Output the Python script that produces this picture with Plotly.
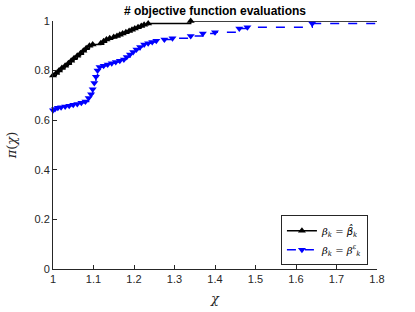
import plotly.graph_objects as go

# ---- data ----
black_x = [1.000, 1.008, 1.015, 1.022, 1.030, 1.038, 1.045, 1.052, 1.060, 1.068,
           1.075, 1.082, 1.090, 1.098, 1.118, 1.125, 1.132, 1.140, 1.150, 1.158,
           1.165, 1.172, 1.180, 1.188, 1.195, 1.202, 1.210, 1.218, 1.225, 1.235,
           1.340]
black_y = [0.780, 0.790, 0.800, 0.810, 0.820, 0.830, 0.840, 0.850, 0.860, 0.870,
           0.880, 0.890, 0.900, 0.905, 0.910, 0.918, 0.925, 0.930, 0.935, 0.940,
           0.945, 0.950, 0.955, 0.960, 0.965, 0.970, 0.975, 0.980, 0.985, 0.990,
           1.000]
blue_x = [1.000, 1.005, 1.012, 1.020, 1.030, 1.040, 1.050, 1.060, 1.070, 1.080,
          1.088, 1.094, 1.098, 1.102, 1.106, 1.110, 1.115, 1.125, 1.135, 1.145,
          1.155, 1.165, 1.175, 1.182, 1.190, 1.198, 1.206, 1.215, 1.225, 1.235,
          1.245, 1.255, 1.275, 1.295, 1.340, 1.370, 1.400, 1.460, 1.480, 1.640]
blue_y = [0.640, 0.645, 0.650, 0.652, 0.655, 0.658, 0.662, 0.665, 0.670, 0.675,
          0.690, 0.705, 0.725, 0.750, 0.775, 0.800, 0.815, 0.820, 0.825, 0.830,
          0.835, 0.840, 0.845, 0.855, 0.865, 0.875, 0.885, 0.895, 0.905, 0.910,
          0.915, 0.920, 0.925, 0.930, 0.940, 0.950, 0.955, 0.970, 0.975, 0.990]
x_end = 1.8
x_ticks = [1, 1.1, 1.2, 1.3, 1.4, 1.5, 1.6, 1.7, 1.8]
x_ticktext = ["1", "1.1", "1.2", "1.3", "1.4", "1.5", "1.6", "1.7", "1.8"]
y_ticks = [0, 0.2, 0.4, 0.6, 0.8, 1]
y_ticktext = ["0", "0.2", "0.4", "0.6", "0.8", "1"]

name_black = ("<i>β</i><sub><i>k</i></sub> = "
              "<span style='font-family:DejaVu Sans'><i>\u03b2\u0302</i></span><sub><i>k</i></sub>")
name_blue = "<i>β</i><sub><i>k</i></sub> = <i>β</i><sup><i>ε</i></sup><sub><i>k</i></sub>"

fig = go.Figure()

# black extension line
fig.add_trace(go.Scatter(x=[black_x[-1], x_end], y=[black_y[-1], black_y[-1]],
                         mode="lines", line=dict(color="black", width=1.5),
                         showlegend=False, hoverinfo="skip", cliponaxis=False))
fig.add_trace(go.Scatter(x=black_x, y=black_y, mode="lines+markers", name=name_black,
                         line=dict(color="black", width=1.5, shape="hv"),
                         marker=dict(symbol="triangle-up", size=7, color="black"),
                         cliponaxis=False))
# blue extension
fig.add_trace(go.Scatter(x=[blue_x[-1], x_end], y=[blue_y[-1], blue_y[-1]],
                         mode="lines", line=dict(color="#0000FF", width=1.5, dash="dash"),
                         showlegend=False, hoverinfo="skip", cliponaxis=False))
fig.add_trace(go.Scatter(x=blue_x, y=blue_y, mode="lines+markers", name=name_blue,
                         line=dict(color="#0000FF", width=1.5, dash="dash", shape="hv"),
                         marker=dict(symbol="triangle-down", size=7, color="#0000FF"),
                         cliponaxis=False))

axis_color = "#262626"
fig.update_layout(
    width=415, height=312,
    margin=dict(l=53, r=38, t=21, b=43, autoexpand=False),
    paper_bgcolor="white", plot_bgcolor="white",
    font=dict(family="Liberation Sans, Arial", size=11, color=axis_color),
    title=dict(text="<b># objective function evaluations</b>", x=0.518, xanchor="center",
               y=0.965, yanchor="middle", font=dict(size=12, color="black")),
    xaxis=dict(range=[1, 1.8], tickvals=x_ticks, ticktext=x_ticktext, automargin=False,
               ticks="inside", ticklen=4, tickcolor=axis_color, showline=True,
               linecolor=axis_color, linewidth=1, showgrid=False, zeroline=False,
               title=dict(text="<i>χ</i>", font=dict(family="DejaVu Serif", size=13), standoff=9)),
    yaxis=dict(range=[0, 1], tickvals=y_ticks, ticktext=y_ticktext, automargin=False,
               ticks="inside", ticklen=4, tickcolor=axis_color, showline=True,
               linecolor=axis_color, linewidth=1, showgrid=False, zeroline=False,
               title=dict(text="<i>π</i>(<i>χ</i>)", font=dict(family="DejaVu Serif", size=13), standoff=14)),
    legend=dict(x=0.972, y=0.015, xanchor="right", yanchor="bottom",
                bgcolor="white", bordercolor=axis_color, borderwidth=1,
                font=dict(family="DejaVu Serif", size=10, color="black"),
                tracegroupgap=0, itemwidth=30),
    showlegend=True,
)

fig.write_html("out.html", post_script="document.body.style.margin='0';",
               config={"displayModeBar": False})
